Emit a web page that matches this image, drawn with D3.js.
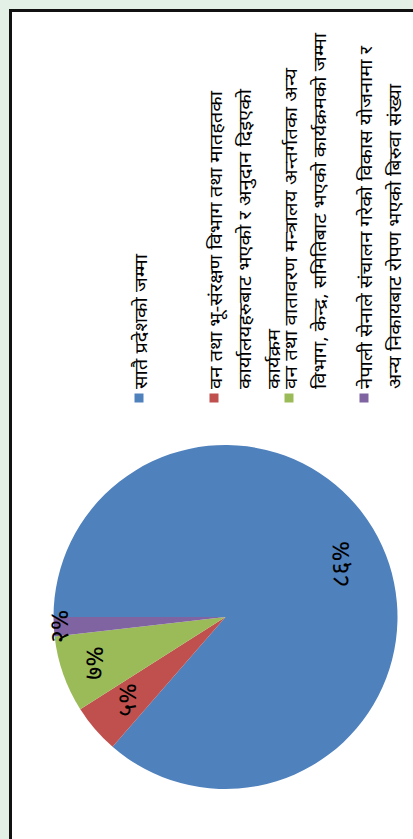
<!DOCTYPE HTML>
<html>
<head>
<meta charset="utf-8">
<title>बिरुवा रोपण</title>
<script type="text/javascript" src="https://cdn.jsdelivr.net/npm/d3@7/dist/d3.min.js"></script>
<style>
html, body{
    margin:0;
    padding:0;
    background-color:#e2f0e6;
}
svg{
    display:block;
}
.legend text{
    font-family:"Noto Sans Devanagari", "Lohit Devanagari", "Noto Sans", sans-serif;
    font-size:17px;
    fill:#000;
}
.pct{
    font-family:"Noto Sans Devanagari", "Lohit Devanagari", "Noto Sans", sans-serif;
    font-size:25px;
    fill:#000;
}
</style>
</head>
<body>
<div id="chart"></div>
<script>
// data
var categories = [
    "सातै प्रदेशको जम्मा",
    "वन तथा भू-संरक्षण विभाग तथा मातहतका कार्यालयहरुबाट भएको र अनुदान दिइएको कार्यक्रम",
    "वन तथा वातावरण मन्त्रालय अन्तर्गतका अन्य विभाग, केन्द्र, समितिबाट भएको कार्यक्रमको जम्मा",
    "नेपाली सेनाले संचालन गरेको विकास योजनामा र अन्य निकायबाट रोपण भएको बिरुवा संख्या"
];
// how the legend wraps each entry
var legendLines = [
    ["सातै प्रदेशको जम्मा"],
    ["वन तथा भू-संरक्षण विभाग तथा मातहतका", "कार्यालयहरुबाट भएको र अनुदान दिइएको", "कार्यक्रम"],
    ["वन तथा वातावरण मन्त्रालय अन्तर्गतका अन्य", "विभाग, केन्द्र, समितिबाट भएको कार्यक्रमको जम्मा"],
    ["नेपाली सेनाले संचालन गरेको विकास योजनामा र", "अन्य निकायबाट रोपण भएको बिरुवा संख्या"]
];
var values = [86.4, 4.6, 7.2, 1.8];   // percent
var colors = ["#4f81bd", "#c0504d", "#9bbb59", "#8064a2"];

var W = 413, H = 839;

function toNepaliDigits(s){
    var dev = "०१२३४५६७८९";
    return String(s).replace(/[0-9]/g, function(d){ return dev[+d]; });
}

var svg = d3.select("#chart").append("svg")
    .attr("width", W)
    .attr("height", H);

// chart is drawn upright, then turned a quarter left
var g = svg.append("g")
    .attr("transform", "translate(0," + H + ") rotate(-90)");

g.append("rect")
    .attr("x", -20)
    .attr("y", 10.5)
    .attr("width", 848.5)
    .attr("height", 450)
    .attr("fill", "#fff")
    .attr("stroke", "#111")
    .attr("stroke-width", 3);

var cx = 222, cy = 225.5, r = 172;

var pie = d3.pie().sort(null).value(function(d){ return d; });
var arcs = pie(values);
var total = d3.sum(values);

var arc = d3.arc().innerRadius(0).outerRadius(r);

var pieG = g.append("g").attr("transform", "translate(" + cx + "," + cy + ")");

pieG.selectAll("path")
    .data(arcs)
    .enter().append("path")
    .attr("d", arc)
    .attr("fill", function(d, i){ return colors[i]; });

// best-fit style label distance, as share of radius
var labelR = [0.74, 0.74, 0.8, 0.96];

pieG.selectAll("text")
    .data(arcs)
    .enter().append("text")
    .attr("class", "pct")
    .attr("transform", function(d, i){
        var a = (d.startAngle + d.endAngle) / 2;
        var rr = r * labelR[i];
        return "translate(" + (rr * Math.sin(a)) + "," + (-rr * Math.cos(a)) + ")";
    })
    .attr("text-anchor", "middle")
    .attr("dy", "0.3em")
    .text(function(d){ return toNepaliDigits(Math.round(d.value / total * 100)) + "%"; });

// legend
var legend = g.append("g").attr("class", "legend");
var rowY = d3.scalePoint().domain(d3.range(categories.length)).range([139, 364]);

// run length of each wrapped line in the source (its font is wider)
var lineLen = [[135], [298, 300, 60], [321, 356], [343, 305]];

var item = legend.selectAll("g")
    .data(categories)
    .enter().append("g")
    .attr("transform", function(d, i){ return "translate(0," + rowY(i) + ")"; });

item.append("rect")
    .attr("x", 436.5)
    .attr("y", -4.5)
    .attr("width", 9)
    .attr("height", 9)
    .attr("fill", function(d, i){ return colors[i]; });

item.each(function(d, i){
    d3.select(this).selectAll("text")
        .data(legendLines[i])
        .enter().append("text")
        .attr("x", 450)
        .attr("y", function(t, j){ return 8 + j * 29; })
        .attr("textLength", function(t, j){ return lineLen[i][j]; })
        .attr("lengthAdjust", "spacingAndGlyphs")
        .text(function(t){ return t; });
});
</script>
</body>
</html>
